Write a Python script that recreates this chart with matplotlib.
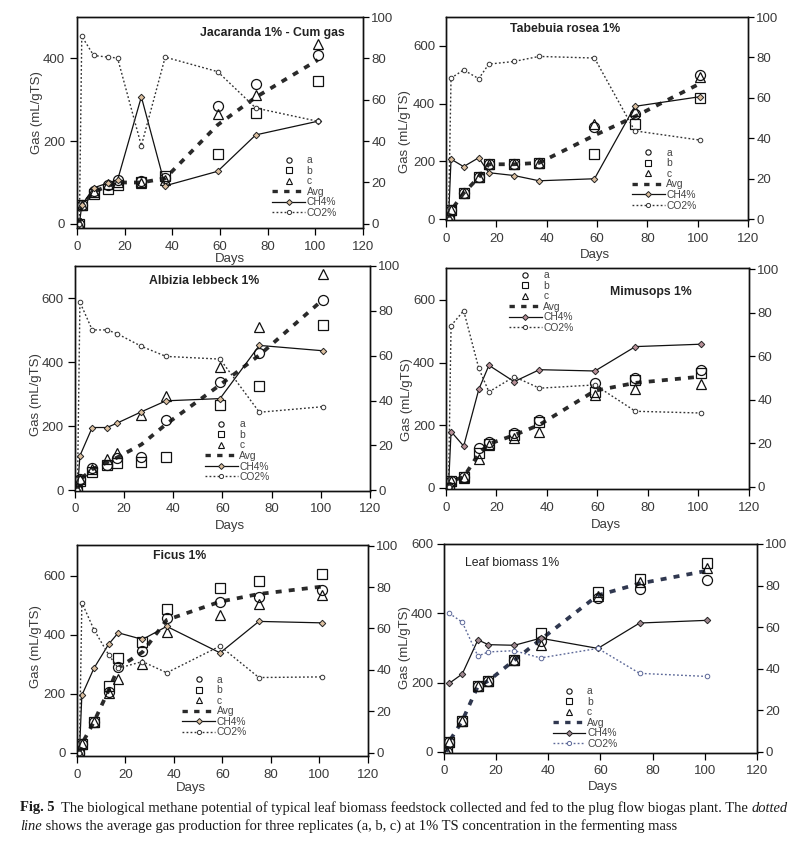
import numpy as np
import matplotlib
matplotlib.use("Agg")
import matplotlib.pyplot as plt
from matplotlib.lines import Line2D

plt.rcParams['font.family'] = ['Liberation Sans', 'DejaVu Sans']

W, H = 803, 848
days = [1, 2, 7, 13, 17, 27, 37, 59, 75, 101]
nan = np.nan

# ---- data ----
titles = ["Jacaranda 1% - Cum gas", "Tabebuia rosea 1%", "Albizia lebbeck 1%",
          "Mimusops 1%", "Ficus 1%", "Leaf biomass 1%"]

jac_a = [0, 45, 80, 95, 105, 103, 110, 284, 337, 408]
jac_b = [0, 45, 72, 85, 95, 100, 115, 168, 268, 345]
jac_c = [0, 45, 78, 97, 100, 98, 105, 265, 312, 435]
jac_avg = [0, 45, 77, 92, 100, 100, 110, 239, 306, 396]
jac_ch4 = [0, 9, 17.4, 19.8, 21.1, 61.4, 18.4, 25.4, 43, 49.6]
jac_co2 = [0, 90.7, 81.4, 80.6, 80.2, 37.8, 80.6, 73.6, 56, 49.6]

tab_a = [0, 30, 90, 145, 190, 190, 195, 320, 365, 500]
tab_b = [0, 30, 90, 145, 190, 190, 195, 225, 328, 418]
tab_c = [0, 30, 90, 145, 190, 190, 195, 330, 375, 492]
tab_avg = [0, 30, 90, 145, 190, 190, 195, 290, 355, 470]
tab_ch4 = [0, 29.7, 26, 30.4, 23, 21.6, 19, 20, 55.8, 60.6]
tab_co2 = [0, 69.8, 73.8, 69.5, 76.7, 78, 80.5, 79.7, 43.7, 39.1]

alb_a = [0, 35, 70, 80, 100, 105, 220, 338, 430, 595]
alb_b = [0, 30, 58, 80, 86, 90, 105, 265, 326, 517]
alb_c = [0, 35, 68, 98, 118, 234, 293, 385, 509, 676]
alb_avg = [0, 33, 66, 87, 102, 143, 206, 329, 422, 596]
alb_ch4 = [0, 15.4, 28, 28, 29.9, 35, 39.9, 40.9, 64.6, 62.2]
alb_co2 = [0, 83.9, 71.5, 71.5, 69.9, 64.2, 59.7, 58.5, 34.8, 37.3]

mim_a = [0, 22, 35, 126, 145, 175, 216, 335, 350, 375]
mim_b = [0, 22, 35, 110, 140, 170, 210, 305, 343, 365]
mim_c = [0, 22, 32, 91, 135, 160, 177, 295, 314, 330]
mim_avg = [0, 22, 34, 109, 140, 168, 201, 310, 335, 355]
mim_ch4 = [0, 25.4, 18.7, 44.8, 55.8, 48.3, 53.8, 53.2, 64.4, 65.5]
mim_co2 = [0, 74, 80.9, 54.4, 43.6, 50.6, 45.3, 46.8, 34.7, 33.9]

fic_a = [0, 30, 105, 205, 292, 346, 455, 510, 529, 551]
fic_b = [0, 30, 105, 226, 322, 376, 486, 559, 583, 605]
fic_c = [0, 30, 105, 201, 249, 300, 409, 467, 503, 534]
fic_avg = [0, 30, 105, 211, 288, 341, 450, 512, 538, 563]
fic_ch4 = [0, 27.7, 40.8, 52.3, 57.9, 54.7, 61, 48.2, 63.4, 62.7]
fic_co2 = [0, 72.5, 59.4, 47.4, 40.8, 44, 38.6, 51.5, 36.3, 36.6]

leaf_a = [0, 30, 90, 190, 205, 265, 320, 445, 470, 495]
leaf_b = [0, 30, 90, 190, 205, 265, 342, 461, 499, 545]
leaf_c = [0, 30, 90, 190, 205, 265, 309, 450, 490, 530]
leaf_avg = [0, 30, 90, 190, 205, 265, 324, 452, 486, 523]
leaf_ch4 = [nan, 33, 37.5, 53.9, 51.6, 51.3, 54.7, 49.8, 62, 63.3]
leaf_co2 = [nan, 66.7, 62.4, 46.1, 48.1, 48.7, 45.2, 49.8, 37.8, 36.3]

panels_data = [
    (jac_a, jac_b, jac_c, jac_avg, jac_ch4, jac_co2),
    (tab_a, tab_b, tab_c, tab_avg, tab_ch4, tab_co2),
    (alb_a, alb_b, alb_c, alb_avg, alb_ch4, alb_co2),
    (mim_a, mim_b, mim_c, mim_avg, mim_ch4, mim_co2),
    (fic_a, fic_b, fic_c, fic_avg, fic_ch4, fic_co2),
    (leaf_a, leaf_b, leaf_c, leaf_avg, leaf_ch4, leaf_co2),
]

# ---- layout (pixels) ----
boxes = [(77, 17, 363, 228), (446, 17, 748, 220), (75, 266, 370, 491),
         (446, 268, 749, 489), (77, 545, 368, 756), (444, 544, 757, 753)]
ylims_l = [(-10, 500), (-3, 700), (-2, 700), (-4, 702), (-11, 704), (-3, 600)]
ylims_r = [(-2, 100), (-0.4, 100), (-0.3, 100), (-1, 100.5), (-1.6, 100.3), (-0.5, 100)]
yticks_l = [[0, 200, 400], [0, 200, 400, 600], [0, 200, 400, 600],
            [0, 200, 400, 600], [0, 200, 400, 600], [0, 200, 400, 600]]
left_pad = [3.5, 2.9, 3.2, 2.9, 3.2, 2.9]
title_pos = [(0.682, 0.924), (0.394, 0.941), (0.437, 0.933), (0.677, 0.891),
             (0.354, 0.948), (0.217, 0.909)]
title_bold = [True, True, True, True, True, False]
leg_pos = [(0.683, 0.345), (0.616, 0.355), (0.440, 0.318), (0.207, 0.99),
           (0.362, 0.385), (0.347, 0.320)]
ylab_pos = [(37, 113), (405, 132), (36, 395), (407, 400), (36, 647), (405, 648)]
days_pos = [(230, 259), (595, 255), (230, 526), (606, 525), (191, 788), (603, 787)]
ch4_fill = ['#dcc0a0', '#dcc0a0', '#dcc0a0', '#b89098', '#dcc0a0', '#a08890']
co2_col = ['#333333', '#333333', '#333333', '#333333', '#333333', '#5c6898']
avg_col = ['#2a2a2a', '#2a2a2a', '#2a2a2a', '#2a2a2a', '#2a2a2a', '#303850']
txtc = '#3a3a3a'

fig = plt.figure(figsize=(W / 100, H / 100), dpi=100)
fig.patch.set_facecolor('white')


def px(x, y):
    return x / W, 1 - y / H


for i, (l, t, r, b) in enumerate(boxes):
    ra, rb, rc, avg, ch4, co2 = panels_data[i]
    ax = fig.add_axes([l / W, 1 - b / H, (r - l) / W, (b - t) / H])
    ax2 = ax.twinx()
    ax.set_xlim(0, 120)
    ax.set_ylim(*ylims_l[i])
    ax2.set_ylim(*ylims_r[i])
    ax.set_xticks(range(0, 121, 20))
    ax.set_yticks(yticks_l[i])
    ax2.set_yticks(range(0, 101, 20))
    for a_ in (ax, ax2):
        for s in a_.spines.values():
            s.set_linewidth(1.0)
            s.set_color('#111111')
    ax.tick_params(axis='y', direction='out', length=5, width=0.9, pad=left_pad[i],
                   labelsize=9.5, labelcolor=txtc)
    ax.tick_params(axis='x', direction='out', length=5, width=0.9, pad=4,
                   labelsize=9.5, labelcolor=txtc)
    ax2.tick_params(axis='y', direction='out', length=4.5, width=0.9, pad=1.5,
                    labelsize=9.5, labelcolor=txtc)

    # replicates
    mk = dict(linestyle='none', markerfacecolor='none', markeredgecolor='#111111',
              markeredgewidth=0.9, zorder=4)
    ax.plot(days, ra, marker='o', markersize=7.2, **mk)
    ax.plot(days, rb, marker='s', markersize=6.8, **mk)
    ax.plot(days, rc, marker='^', markersize=7.8, **mk)
    ax.plot(days, avg, color=avg_col[i], lw=2.7, linestyle=(0, (1.6, 1.9)), zorder=3)

    ax2.plot(days, ch4, color='#111111', lw=0.9, marker='D', markersize=3.3,
             markerfacecolor=ch4_fill[i], markeredgecolor='#222222', markeredgewidth=0.7)
    ax2.plot(days, co2, color=co2_col[i], lw=1.0, linestyle=(0, (1.3, 1.6)), marker='o',
             markersize=3.3, markerfacecolor='white', markeredgecolor=co2_col[i],
             markeredgewidth=0.7)

    ax.text(title_pos[i][0], title_pos[i][1], titles[i], transform=ax.transAxes,
            ha='center', va='center', fontsize=8.8,
            fontweight='bold' if title_bold[i] else 'normal', color='#222222')

    hl = [
        Line2D([], [], linestyle='none', marker='o', markersize=3.8, markerfacecolor='none',
               markeredgecolor='#111111', markeredgewidth=0.8),
        Line2D([], [], linestyle='none', marker='s', markersize=3.8, markerfacecolor='none',
               markeredgecolor='#111111', markeredgewidth=0.8),
        Line2D([], [], linestyle='none', marker='^', markersize=4.2, markerfacecolor='none',
               markeredgecolor='#111111', markeredgewidth=0.8),
        Line2D([], [], color=avg_col[i], lw=2.4, linestyle=(0, (1.6, 1.9))),
        Line2D([], [], color='#111111', lw=0.9, marker='D', markersize=3,
               markerfacecolor=ch4_fill[i], markeredgecolor='#222222', markeredgewidth=0.7),
        Line2D([], [], color=co2_col[i], lw=1.0, linestyle=(0, (1.3, 1.6)), marker='o',
               markersize=3, markerfacecolor='white', markeredgecolor=co2_col[i],
               markeredgewidth=0.7),
    ]
    leg = ax2.legend(hl, ['a', 'b', 'c', 'Avg', 'CH4%', 'CO2%'], loc='upper left',
                     bbox_to_anchor=leg_pos[i], frameon=False, fontsize=7.4,
                     handlelength=3.2, handletextpad=0.15, labelspacing=0.05,
                     borderpad=0.0, borderaxespad=0.0)
    for tx in leg.get_texts():
        tx.set_color('#444444')

    fig.text(*px(*ylab_pos[i]), 'Gas (mL/gTS)', rotation=90, ha='center', va='center',
             fontsize=9.5, color=txtc)
    fig.text(*px(*days_pos[i]), 'Days', ha='center', va='center', fontsize=9.5, color=txtc)

# ---- caption ----
fig.canvas.draw()
renderer = fig.canvas.get_renderer()
serif = ['Liberation Serif', 'DejaVu Serif']
cap_lines = [
    [("Fig. 5", dict(fontweight='bold')),
     ("  The biological methane potential of typical leaf biomass feedstock collected and fed to the plug flow biogas plant. The ", {}),
     ("dotted", dict(style='italic'))],
    [("line", dict(style='italic')),
     (" shows the average gas production for three replicates (a, b, c) at 1% TS concentration in the fermenting mass", {})],
]
cap_y = [808, 826]
for line, yy in zip(cap_lines, cap_y):
    x = 20
    for s, kw in line:
        t = fig.text(*px(x, yy), s, ha='left', va='center', fontsize=10.45,
                     family=serif, color='#1a1a1a', **kw)
        bb = t.get_window_extent(renderer=renderer)
        x += bb.width

fig.savefig('out.png', dpi=100)
